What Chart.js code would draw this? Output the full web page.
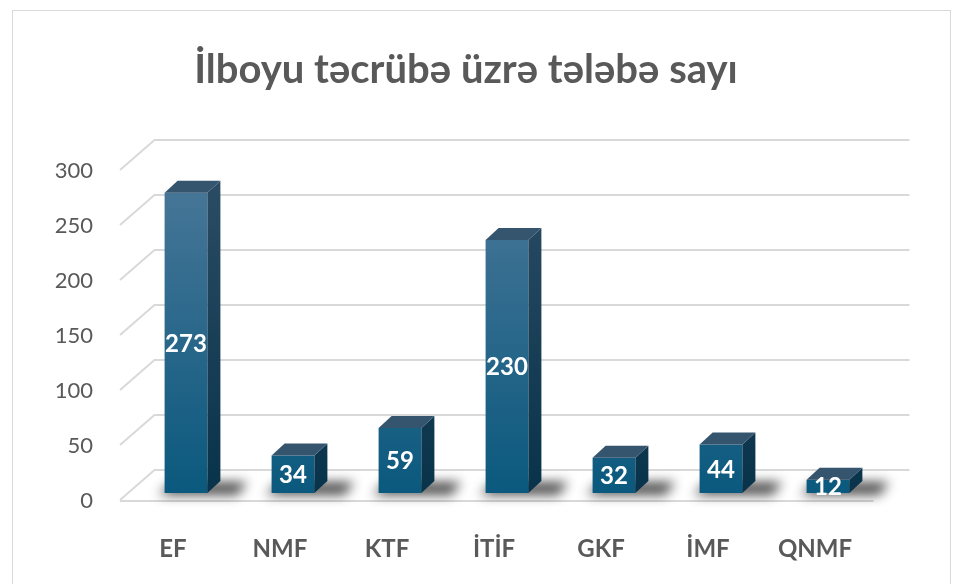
<!DOCTYPE html>
<html>
<head>
<meta charset="utf-8">
<script src="https://cdn.jsdelivr.net/npm/chart.js@4.4.1/dist/chart.umd.min.js"></script>
<style>
html,body{margin:0;padding:0;background:#fff;}
#wrap{width:962px;height:584px;position:relative;}
</style>
</head>
<body>
<div id="wrap"><canvas id="c" width="962" height="584"></canvas></div>
<script>
const categories = ["EF", "NMF", "KTF", "İTİF", "GKF", "İMF", "QNMF"];
const values = [273, 34, 59, 230, 32, 44, 12];
const yTicks = [0, 50, 100, 150, 200, 250, 300];
const titleText = "İlboyu təcrübə üzrə tələbə sayı";

const DX = 13, DY = -12;
const FONT = "Lato, 'Open Sans', sans-serif";

const threeD = {
  id: 'threeD',
  beforeDatasetsDraw(chart) {
    const ctx = chart.ctx, a = chart.chartArea, ys = chart.scales.y;
    ctx.save();
    ctx.strokeStyle = '#d9d9d9'; ctx.lineWidth = 1;
    ctx.strokeRect(12.5, 10.5, 938, 600);
    ctx.strokeStyle = '#d9d9d9'; ctx.lineWidth = 2;
    yTicks.forEach(v => {
      const y = ys.getPixelForValue(v);
      ctx.beginPath();
      ctx.moveTo(a.left - 12.5, y + 7);
      ctx.lineTo(a.left + 22, y - 23);
      ctx.lineTo(a.right + 28, y - 23);
      ctx.stroke();
    });
    const base = ys.getPixelForValue(0);
    ctx.beginPath();
    ctx.moveTo(a.left - 12.5, base + 8);
    ctx.lineTo(a.right - 8, base + 8);
    ctx.stroke();
    const meta = chart.getDatasetMeta(0);
    ctx.filter = 'blur(6px)';
    meta.data.forEach(bar => {
      const l = bar.x - bar.width / 2, r = bar.x + bar.width / 2;
      ctx.fillStyle = 'rgba(0,0,0,0.7)';
      ctx.beginPath();
      ctx.moveTo(l - 6, base + 2);
      ctx.lineTo(r + 30, base + 2);
      ctx.lineTo(r + 40, base - 11);
      ctx.lineTo(l + 8, base - 11);
      ctx.closePath();
      ctx.fill();
    });
    ctx.filter = 'none';
    ctx.restore();
  },
  afterDatasetsDraw(chart) {
    const ctx = chart.ctx, a = chart.chartArea, ys = chart.scales.y;
    const meta = chart.getDatasetMeta(0);
    ctx.save();
    meta.data.forEach((bar, i) => {
      const l = bar.x - bar.width / 2, r = bar.x + bar.width / 2;
      const t = bar.y, b = bar.base;
      const sg = ctx.createLinearGradient(0, a.top, 0, a.bottom);
      sg.addColorStop(0, '#2d4d66');
      sg.addColorStop(1, '#08334a');
      ctx.fillStyle = sg;
      ctx.beginPath();
      ctx.moveTo(r, t); ctx.lineTo(r + DX, t + DY); ctx.lineTo(r + DX, b + DY); ctx.lineTo(r, b);
      ctx.closePath(); ctx.fill();
      ctx.fillStyle = '#35556f';
      ctx.beginPath();
      ctx.moveTo(l, t); ctx.lineTo(l + DX, t + DY); ctx.lineTo(r + DX, t + DY); ctx.lineTo(r, t);
      ctx.closePath(); ctx.fill();
      ctx.fillStyle = '#ffffff';
      ctx.font = 'bold 24px ' + FONT;
      ctx.textAlign = 'center'; ctx.textBaseline = 'middle';
      ctx.fillText(String(values[i]), bar.x, (t + b) / 2 + 1);
      ctx.fillStyle = '#595959';
      ctx.font = 'bold 24px ' + FONT;
      ctx.fillText(categories[i], bar.x - 13, 549);
    });
    ctx.fillStyle = '#595959';
    ctx.font = '22px ' + FONT;
    ctx.textAlign = 'right'; ctx.textBaseline = 'middle';
    yTicks.forEach(v => {
      ctx.fillText(String(v), 93, ys.getPixelForValue(v) + 8);
    });
    ctx.fillStyle = '#595959';
    ctx.font = 'bold 40px ' + FONT;
    ctx.textAlign = 'center'; ctx.textBaseline = 'middle';
    ctx.fillText(titleText, 466, 70);
    ctx.restore();
  }
};

new Chart(document.getElementById('c'), {
  type: 'bar',
  data: {
    labels: categories,
    datasets: [{
      data: values,
      backgroundColor(ctx) {
        const ch = ctx.chart, a = ch.chartArea;
        if (!a) return '#1a6085';
        const g = ch.ctx.createLinearGradient(0, a.top, 0, a.bottom);
        g.addColorStop(0, '#4b7899');
        g.addColorStop(1, '#0b597e');
        return g;
      },
      borderWidth: 0,
      barPercentage: 0.8,
      categoryPercentage: 0.5
    }]
  },
  options: {
    responsive: false,
    animation: false,
    layout: { padding: { left: 132.5, right: 80.5, top: 163, bottom: 91 } },
    scales: {
      x: { display: false },
      y: { display: false, min: 0, max: 300 }
    },
    plugins: { legend: { display: false }, tooltip: { enabled: false }, title: { display: false } }
  },
  plugins: [threeD]
});
</script>
</body>
</html>
